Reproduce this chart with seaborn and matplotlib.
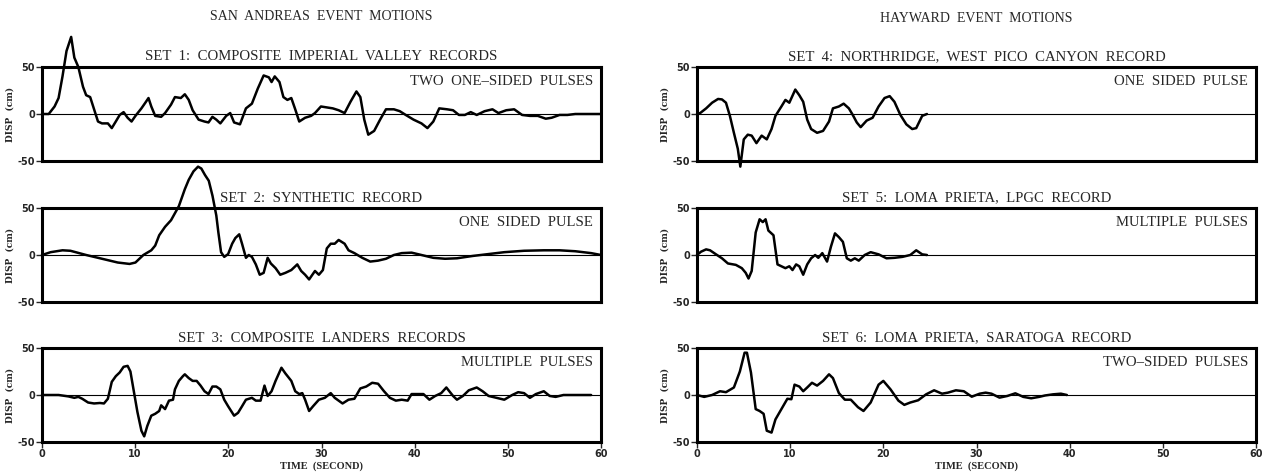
import numpy as np
import pandas as pd
import seaborn as sns
import matplotlib.pyplot as plt

# ground motion records, time in seconds, displacement in cm
set1_time = [0, 0.72, 1.35, 1.78, 2.20, 2.63, 3.13, 3.47, 3.90, 4.40, 4.74, 5.17, 5.59, 6.01, 6.44,
             7.07, 7.49, 7.92, 8.34, 8.76, 9.19, 9.61, 10.03, 10.67, 11.09, 11.43, 11.73, 12.15,
             12.79, 13.21, 13.85, 14.27, 14.90, 15.33, 15.75, 16.17, 16.81, 17.44, 17.87, 18.29,
             18.71, 19.14, 19.77, 20.20, 20.62, 21.25, 21.89, 22.53, 23.16, 23.79, 24.35, 24.64,
             24.98, 25.49, 25.91, 26.34, 26.76, 27.18, 27.61, 28.24, 28.88, 29.30, 29.94, 30.57,
             31.21, 31.84, 32.48, 33.11, 33.75, 34.17, 34.59, 35.02, 35.65, 36.29, 36.92, 37.77,
             38.40, 39.04, 39.88, 40.73, 41.37, 42.00, 42.64, 43.48, 44.12, 44.75, 45.39, 46.02,
             46.66, 47.51, 48.35, 48.99, 49.83, 50.68, 51.53, 52.37, 53.22, 54.07, 54.70, 55.55,
             56.40, 57.24, 58.09, 60.0]
set1_disp = [0, 0, 8, 17, 40, 67, 82, 60, 50, 29, 20, 18, 5, -8, -10,
             -10, -15, -8, -1, 2, -4, -8, -2, 6, 12, 17, 8, -2,
             -3, 1, 10, 18, 17, 21, 15, 4, -6, -8, -9, -3,
             -6, -10, -2, 1, -9, -11, 6, 11, 27, 41, 39, 34,
             40, 34, 18, 15, 17, 5, -8, -4, -2, 1, 8, 7,
             6, 4, 1, 13, 24, 18, -6, -22, -18, -6, 5, 5,
             3, -1, -6, -10, -15, -8, 6, 5, 4, -1, -1, 2,
             -1, 3, 5, 1, 4, 5, -1, -2, -2, -5, -4, -1,
             -1, 0, 0, 0]

set2_time = [0, 0.93, 2.20, 3.05, 4.74, 6.44, 8.13, 9.40, 10.03, 10.88, 11.73, 12.15, 12.58, 13.21,
             13.85, 14.69, 15.33, 15.75, 16.26, 16.75, 17.10, 17.50, 17.90, 18.30, 18.71, 18.93,
             19.22, 19.56, 19.98, 20.41, 20.75, 21.17, 21.47, 21.89, 22.19, 22.53, 22.95, 23.37,
             23.79, 24.22, 24.56, 25.07, 25.57, 26.12, 26.76, 27.40, 27.82, 28.24, 28.67, 29.30,
             29.72, 30.15, 30.57, 30.99, 31.42, 31.84, 32.48, 32.90, 33.53, 34.38, 35.23, 36.07,
             36.92, 37.77, 38.61, 39.67, 40.73, 42.00, 43.27, 44.54, 46.24, 47.93, 49.62, 51.74,
             53.86, 55.55, 57.24, 58.94, 60.0]
set2_disp = [0, 3, 5, 4.5, 0, -4, -8, -9.5, -8, 0, 5, 10, 21, 30,
             37, 52, 70, 80, 89, 94, 92, 85, 79, 63, 42, 24,
             3, -2, 1, 12, 18, 22, 12, -3, 0, -2, -10, -21,
             -19, -3, -9, -14, -21, -19, -16, -10, -17, -21, -26, -17,
             -21, -16, 7, 12, 12, 16, 12, 5, 2, -3, -7, -6,
             -4, 0, 2, 2.5, 0, -3, -4, -3.5, -1, 1, 3, 4.5,
             5, 5, 4, 2, 0]

set3_time = [0, 1.78, 2.84, 3.47, 3.90, 4.32, 4.95, 5.59, 6.22, 6.65, 7.07, 7.49, 7.92, 8.34, 8.76,
             9.19, 9.49, 9.82, 10.24, 10.67, 10.97, 11.30, 11.73, 12.15, 12.58, 12.79, 13.21,
             13.63, 14.06, 14.27, 14.69, 15.12, 15.33, 15.75, 16.17, 16.60, 17.02, 17.44, 17.87,
             18.29, 18.71, 19.14, 19.56, 19.98, 20.62, 21.04, 21.47, 21.89, 22.53, 22.95, 23.46,
             23.88, 24.22, 24.64, 25.07, 25.70, 26.12, 26.76, 27.18, 27.61, 27.94, 28.24, 28.67,
             29.09, 29.72, 30.36, 30.99, 31.42, 32.26, 32.90, 33.53, 34.17, 34.80, 35.44, 36.07,
             36.71, 37.34, 37.98, 38.61, 39.25, 39.67, 40.31, 40.94, 41.58, 42.21, 42.85, 43.40,
             44.12, 44.54, 45.18, 45.81, 46.66, 47.29, 47.93, 48.78, 49.62, 50.47, 51.11, 51.74,
             52.37, 53.01, 53.86, 54.49, 55.13, 55.97, 58.09, 58.94]
set3_disp = [0, 0, -1.5, -3, -2, -4, -8, -9, -8.5, -9, -4, 14, 20, 24, 30,
             31, 25, 6, -18, -38, -44, -33, -22, -20, -17, -11, -15,
             -6, -5, 6, 15, 20, 22, 18, 15, 15, 10, 4, 1,
             9, 9, 6, -5, -12, -22, -19, -12, -5, -3, -6, -6,
             10, -1, 4, 15, 29, 23, 15, 4, 1, 2, -5, -17,
             -12, -5, -3, 2, -3, -9, -5, -4, 7, 9, 13, 12,
             4, -3, -6, -5, -6, 1, 1, 1, -5, -1, 2, 8,
             -1, -5, -1, 5, 8, 4, -1, -3, -5, 0, 3, 2,
             -3, 1, 4, -1, -2, 0, 0, 0]

set4_time = [0, 0.34, 0.98, 1.62, 2.26, 2.68, 3.11, 3.53, 3.96, 4.38, 4.65, 5.02, 5.45, 5.87, 6.38,
             6.94, 7.49, 8.00, 8.42, 9.06, 9.49, 9.91, 10.55, 10.98, 11.40, 11.83, 12.25, 12.89,
             13.53, 14.17, 14.59, 15.23, 15.74, 16.30, 16.72, 17.15, 17.57, 18.21, 18.85, 19.49,
             20.13, 20.68, 21.19, 21.83, 22.47, 23.10, 23.53, 24.17, 24.68]
set4_disp = [0, 1, 6, 12, 16, 15.5, 12, -2, -20, -37, -56, -27, -22, -23, -31,
             -23, -27, -16, -2, 8, 15, 12, 26, 20, 13, -6, -16, -20,
             -18, -8, 6, 8, 11, 6, -1, -9, -14, -7, -4, 8,
             17, 19, 13, -1, -11, -16, -15, -2, 0]

set5_time = [0, 0.43, 0.98, 1.40, 2.04, 2.68, 3.32, 4.17, 4.81, 5.23, 5.53, 5.87, 6.30, 6.72, 7.06,
             7.36, 7.66, 8.21, 8.64, 9.06, 9.49, 9.91, 10.25, 10.64, 10.98, 11.40, 11.83, 12.25,
             12.68, 13.02, 13.45, 13.96, 14.38, 14.81, 15.23, 15.66, 16.08, 16.51, 16.94, 17.36,
             18.00, 18.64, 19.49, 20.34, 21.19, 22.04, 22.89, 23.53, 24.17, 24.68]
set5_disp = [0, 3.5, 6, 5, 0.7, -3.5, -9, -10.5, -14, -19, -25, -17, 24, 38, 35,
             38, 26, 21, -10, -12, -14, -12, -16, -10, -12, -21, -10, -3.5,
             0, -3, 2, -7, 9, 23, 19, 14, -3.5, -6, -3.5, -6,
             0, 3, 0.7, -3.5, -3, -2, 0, 5, 0.7, 0]

set6_time = [0, 0.77, 1.62, 2.47, 3.11, 3.96, 4.60, 5.11, 5.36, 5.79, 6.30, 6.72, 7.15, 7.49, 8.00,
             8.42, 9.06, 9.70, 10.13, 10.47, 10.98, 11.40, 11.83, 12.34, 12.89, 13.53, 14.17,
             14.59, 15.23, 15.87, 16.51, 17.28, 17.87, 18.64, 19.49, 20.00, 20.77, 21.62, 22.25,
             22.89, 23.74, 24.59, 25.45, 26.30, 26.93, 27.79, 28.64, 29.49, 30.34, 30.98, 31.61,
             32.47, 33.32, 34.17, 35.02, 35.87, 36.72, 37.36, 38.21, 39.06, 39.70]
set6_disp = [0, -2, 0, 4, 3, 8, 25, 45, 45, 24, -15, -17, -20, -38, -40,
             -26, -15, -4, -4.5, 11, 9, 4, 8, 13, 10, 15, 22,
             18, 2, -5, -5, -13, -17, -8, 11, 15, 6, -6, -10.5,
             -8, -5.6, 0.7, 5, 1.4, 2.5, 5, 4, -1.8, 1.4, 2.5, 1.4,
             -2.8, -1, 1.8, -2, -3.5, -2, -0.5, 0.7, 1.4, 0]

set_times = [set1_time, set2_time, set3_time, set4_time, set5_time, set6_time]
set_disps = [set1_disp, set2_disp, set3_disp, set4_disp, set5_disp, set6_disp]

set_titles = [
    "SET  1:  COMPOSITE  IMPERIAL  VALLEY  RECORDS",
    "SET  2:  SYNTHETIC  RECORD",
    "SET  3:  COMPOSITE  LANDERS  RECORDS",
    "SET  4:  NORTHRIDGE,  WEST  PICO  CANYON  RECORD",
    "SET  5:  LOMA  PRIETA,  LPGC  RECORD",
    "SET  6:  LOMA  PRIETA,  SARATOGA  RECORD",
]
pulse_notes = [
    "TWO  ONE\u2013SIDED  PULSES",
    "ONE  SIDED  PULSE",
    "MULTIPLE  PULSES",
    "ONE  SIDED  PULSE",
    "MULTIPLE  PULSES",
    "TWO\u2013SIDED  PULSES",
]
group_titles = ["SAN  ANDREAS  EVENT  MOTIONS", "HAYWARD  EVENT  MOTIONS"]
y_ticks = [-50, 0, 50]
y_tick_labels = ["-50", "0", "50"]
x_ticks = [0, 10, 20, 30, 40, 50, 60]

sns.set_style("white")
plt.rcParams["font.family"] = ["Liberation Serif", "DejaVu Serif"]

W, H = 1264, 474
fig = plt.figure(figsize=(W / 100, H / 100), dpi=100)

col_left = [42, 697]
row_top = [67, 208, 348]
aw, ah = 559, 94
group_y = [17, 19]

for i in range(6):
    col, row = divmod(i, 3)
    x0, y0 = col_left[col], row_top[row]
    ax = fig.add_axes([x0 / W, 1 - (y0 + ah) / H, aw / W, ah / H])

    df = pd.DataFrame({"time": set_times[i], "disp": set_disps[i]})
    ax.axhline(0, color="black", lw=0.8, zorder=1)
    sns.lineplot(data=df, x="time", y="disp", ax=ax, color="black", lw=1.8,
                 sort=False, estimator=None, zorder=3)
    ax.lines[-1].set_clip_on(False)

    ax.set_xlim(0, 60)
    ax.set_ylim(-50, 50)
    for sp in ax.spines.values():
        sp.set_linewidth(2.2)
        sp.set_color("black")

    ax.set_yticks(y_ticks, labels=y_tick_labels, fontweight="bold", family="DejaVu Sans", fontsize=7)
    ax.tick_params(axis="y", direction="out", length=4, width=1, pad=1, left=True)
    if row == 2:
        ax.set_xticks(x_ticks, labels=[str(v) for v in x_ticks], fontweight="bold",
                      family="DejaVu Sans", fontsize=7)
        ax.tick_params(axis="x", direction="out", length=4, width=1, pad=1, bottom=True)
        ax.text(0.5, -24 / ah, "TIME  (SECOND)", transform=ax.transAxes,
                ha="center", va="center", fontsize=7.5, fontweight="bold")
    else:
        ax.set_xticks([])
    ax.set_xlabel("")
    ax.set_ylabel("DISP  (cm)", fontweight="bold", family="DejaVu Serif", fontsize=6.5)
    ax.yaxis.set_label_coords(-27 / aw, 0.5)

    ax.text(0.5, 1 + 10 / ah, set_titles[i], transform=ax.transAxes,
            ha="center", va="center", fontsize=10.6)
    ax.text(1 - 8 / aw, 1 - 15 / ah, pulse_notes[i], transform=ax.transAxes,
            ha="right", va="center", fontsize=10.6)

    if row == 0:
        fig.text((x0 + aw / 2) / W, 1 - group_y[col] / H, group_titles[col],
                 ha="center", va="center", fontsize=10)

plt.savefig("out.png", dpi=100)
